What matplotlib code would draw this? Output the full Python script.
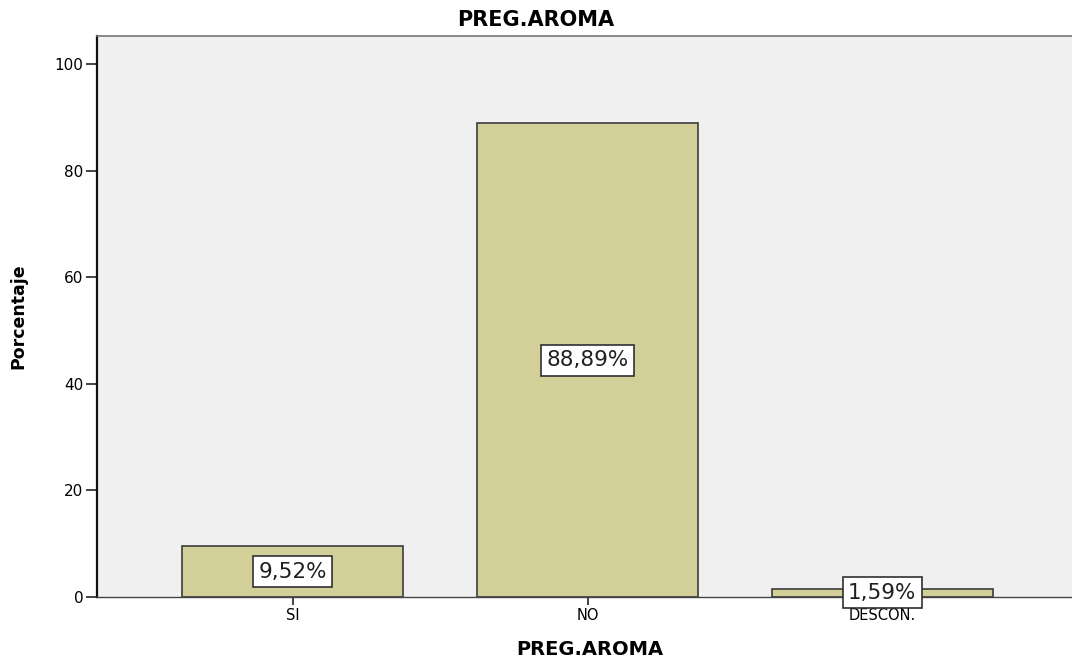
import matplotlib
matplotlib.use("Agg")
import matplotlib.pyplot as plt

categories = ["SI", "NO", "DESCON."]
values = [9.52, 88.89, 1.59]
labels = ["9,52%", "88,89%", "1,59%"]
yticks = [0, 20, 40, 60, 80, 100]

plt.rcParams['font.family'] = ['DejaVu Sans']

fig = plt.figure(figsize=(10.72, 6.58), dpi=100)
ax = fig.add_axes([0.0905, 0.0927, 0.9095 + 0.01, 0.945 - 0.0927])
ax.set_facecolor("#F0F0F0")

x = list(range(len(categories)))
ax.bar(x, values, width=0.75, color="#D3CF98", edgecolor="#3C3C3C", linewidth=1.2, zorder=2)
for xi, v, lab in zip(x, values, labels):
    ax.text(xi, v / 2, lab, ha="center", va="center", fontsize=15.5, color="#202020", zorder=3,
            bbox=dict(boxstyle="square,pad=0.25", facecolor="white", edgecolor="#303030", linewidth=1.2))

ax.set_xlim(-0.664, 2.68)
ax.set_ylim(0, 105.25)
ax.set_xticks(x)
ax.set_xticklabels(categories, fontsize=10.5)
ax.set_yticks(yticks)
ax.set_yticklabels([str(t) for t in yticks], fontsize=11)
ax.tick_params(axis="both", length=8, width=1.2, color="#222222", pad=2)
ax.tick_params(axis="x", length=6, pad=2)

ax.spines["left"].set_color("#111111")
ax.spines["left"].set_linewidth(1.6)
ax.spines["top"].set_linewidth(1.2)
ax.spines["top"].set_color("#777777")
ax.spines["bottom"].set_color("#444444")
ax.spines["bottom"].set_linewidth(1.0)
ax.spines["right"].set_visible(False)

fig.text(0.5, 0.970, "PREG.AROMA", ha="center", va="center", fontsize=15, fontweight="bold")
ax.set_xlabel("PREG.AROMA", fontsize=14, fontweight="bold", labelpad=12)
ax.set_ylabel("Porcentaje", fontsize=12.5, fontweight="bold", labelpad=19)

fig.savefig("out.png", dpi=100)
